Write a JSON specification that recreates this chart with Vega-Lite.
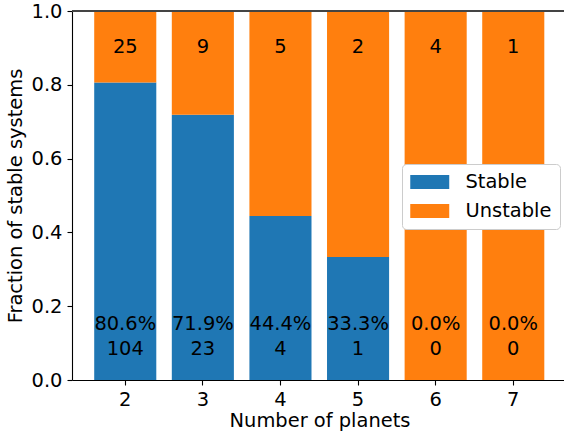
{
  "$schema": "https://vega.github.io/schema/vega-lite/v6.json",
  "autosize": "none",
  "width": 492,
  "height": 369,
  "padding": {"left": 72, "top": 11, "right": 0, "bottom": 59},
  "background": "white",
  "config": {
    "font": "DejaVu Sans",
    "view": {"stroke": null},
    "axis": {
      "labelFont": "DejaVu Sans",
      "titleFont": "DejaVu Sans",
      "labelFontSize": 19.44,
      "titleFontSize": 19.44,
      "titleFontWeight": "normal",
      "labelColor": "black",
      "titleColor": "black",
      "domainColor": "black",
      "tickColor": "black",
      "domainWidth": 1.1,
      "tickWidth": 1.1,
      "tickSize": 5,
      "labelPadding": 5,
      "grid": false
    },
    "legend": {
      "labelFont": "DejaVu Sans",
      "labelFontSize": 19.44,
      "labelColor": "black"
    }
  },
  "data": {
    "values": [
      {"planets": 2, "status": "Stable", "count": 104},
      {"planets": 2, "status": "Unstable", "count": 25},
      {"planets": 3, "status": "Stable", "count": 23},
      {"planets": 3, "status": "Unstable", "count": 9},
      {"planets": 4, "status": "Stable", "count": 4},
      {"planets": 4, "status": "Unstable", "count": 5},
      {"planets": 5, "status": "Stable", "count": 1},
      {"planets": 5, "status": "Unstable", "count": 2},
      {"planets": 6, "status": "Stable", "count": 0},
      {"planets": 6, "status": "Unstable", "count": 4},
      {"planets": 7, "status": "Stable", "count": 0},
      {"planets": 7, "status": "Unstable", "count": 1}
    ]
  },
  "encoding": {
    "x": {
      "field": "planets",
      "type": "ordinal",
      "scale": {"paddingInner": 0.2, "paddingOuter": 0.27, "align": 0.53},
      "axis": {"labelAngle": 0, "title": "Number of planets", "titlePadding": 3, "titleX": 247.5}
    }
  },
  "layer": [
    {
      "mark": {"type": "bar"},
      "encoding": {
        "y": {
          "field": "count",
          "type": "quantitative",
          "stack": "normalize",
          "scale": {"domain": [0, 1], "nice": false},
          "axis": {"values": [0, 0.2, 0.4, 0.6, 0.8, 1.0], "labelExpr": "format(datum.value, '.1f')", "title": "Fraction of stable systems", "titlePadding": 6}
        },
        "color": {
          "field": "status",
          "type": "nominal",
          "scale": {"domain": ["Stable", "Unstable"], "range": ["#1f77b4", "#ff7f0e"]},
          "legend": {
            "title": null,
            "orient": "none",
            "legendX": 330,
            "legendY": 153,
            "fillColor": "white",
            "strokeColor": "#cccccc",
            "cornerRadius": 4,
            "padding": 8,
            "symbolType": "M-1,-0.718L3,-0.718L3,0.718L-1,0.718Z",
            "symbolSize": 380,
            "symbolStrokeWidth": 0,
            "symbolOpacity": 1,
            "labelOffset": 35.5,
            "rowPadding": 9
          }
        },
        "order": {"field": "status", "sort": "ascending"}
      }
    },
    {
      "mark": {"type": "rule", "color": "#444444", "strokeWidth": 1.2},
      "encoding": {"x": null, "y": {"datum": 1}}
    },
    {
      "transform": [
        {"joinaggregate": [{"op": "sum", "field": "count", "as": "total"}], "groupby": ["planets"]},
        {"filter": "datum.status === 'Stable'"},
        {"calculate": "datum.count / datum.total", "as": "frac"}
      ],
      "mark": {"type": "text", "fontSize": 19.44, "font": "DejaVu Sans", "color": "black", "baseline": "middle"},
      "encoding": {
        "y": {"datum": 0.153},
        "text": {"field": "frac", "type": "quantitative", "format": ".1%"}
      }
    },
    {
      "transform": [{"filter": "datum.status === 'Stable'"}],
      "mark": {"type": "text", "fontSize": 19.44, "font": "DejaVu Sans", "color": "black", "baseline": "middle"},
      "encoding": {
        "y": {"datum": 0.083},
        "text": {"field": "count", "type": "quantitative"}
      }
    },
    {
      "transform": [{"filter": "datum.status === 'Unstable'"}],
      "mark": {"type": "text", "fontSize": 19.44, "font": "DejaVu Sans", "color": "black", "baseline": "middle"},
      "encoding": {
        "y": {"datum": 0.902},
        "text": {"field": "count", "type": "quantitative"}
      }
    }
  ]
}
